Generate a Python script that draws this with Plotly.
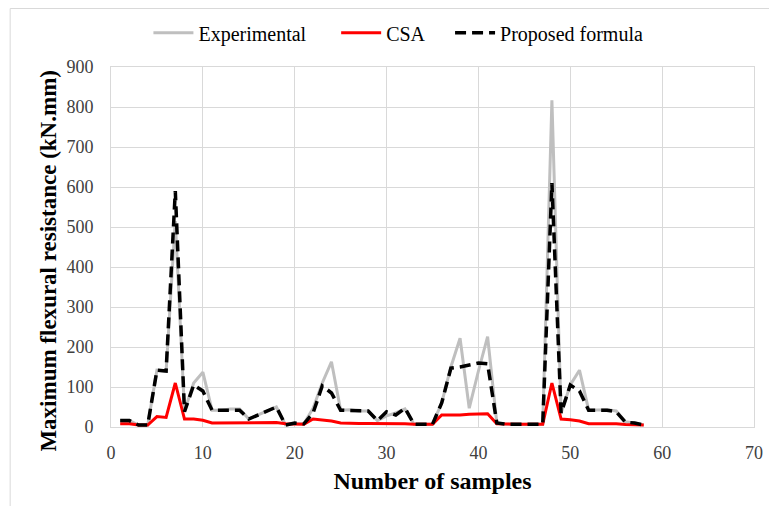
import plotly.graph_objects as go

samples = list(range(1, 59))

experimental = [16, 16, 5, 5, 142, 140, 515, 40, 110, 137,
                42, 42, 45, 45, 20, 30, 38, 50, 5, 8,
                8, 47, 110, 163, 42, 43, 40, 40, 16, 28,
                35, 45, 7, 7, 7, 60, 150, 222, 47, 140,
                226, 10, 7, 7, 7, 7, 7, 817, 35, 105,
                142, 42, 42, 43, 40, 13, 10, 5]

csa = [8, 8, 5, 5, 26, 24, 110, 20, 20, 17,
       10, 10, 10, 11, 11, 11, 11, 11, 8, 7,
       7, 20, 18, 15, 10, 9, 9, 9, 9, 9,
       9, 8, 7, 7, 7, 30, 30, 30, 32, 33,
       33, 8, 7, 7, 7, 7, 7, 110, 20, 18,
       15, 8, 8, 8, 8, 6, 5, 5]

proposed = [16, 16, 5, 5, 142, 140, 590, 38, 105, 90,
            42, 42, 42, 42, 20, 30, 38, 50, 5, 10,
            8, 35, 103, 85, 42, 42, 40, 40, 16, 38,
            30, 47, 7, 7, 7, 60, 147, 150, 155, 160,
            158, 10, 7, 7, 7, 7, 7, 610, 35, 105,
            90, 42, 42, 42, 38, 12, 10, 5]

x_ticks = [0, 10, 20, 30, 40, 50, 60, 70]
y_ticks = [0, 100, 200, 300, 400, 500, 600, 700, 800, 900]

FONT = "Liberation Serif"
GRID = "#d9d9d9"
NB = "\u00a0"

fig = go.Figure()
fig.add_trace(go.Scatter(x=samples, y=experimental, mode="lines", name="Experimental" + NB * 5,
                         line=dict(color="#bfbfbf", width=3)))
fig.add_trace(go.Scatter(x=samples, y=csa, mode="lines", name="CSA" + NB * 4,
                         line=dict(color="#ff0000", width=3)))
fig.add_trace(go.Scatter(x=samples, y=proposed, mode="lines", name="Proposed formula",
                         line=dict(color="#000000", width=3.5, dash="11px,6px")))

fig.update_layout(
    width=769, height=506,
    margin=dict(l=110.5, r=14.5, t=67, b=79),
    paper_bgcolor="white", plot_bgcolor="white",
    font=dict(family=FONT, size=17, color="#000000"),
    legend=dict(orientation="h", x=0.447, xanchor="center", y=1.095, yanchor="middle",
                font=dict(family=FONT, size=20, color="#000"),
                itemwidth=40, tracegroupgap=0, bgcolor="rgba(0,0,0,0)"),
    xaxis=dict(range=[0, 70], tickvals=x_ticks, showgrid=True, gridcolor=GRID, gridwidth=1,
               zeroline=False, showline=True, linecolor=GRID, linewidth=1, mirror=True,
               ticks="", ticklabelstandoff=9, automargin=False,
               tickfont=dict(family=FONT, size=18, color="#404040"),
               title=dict(text="<b>Number of samples</b>", standoff=10,
                          font=dict(family=FONT, size=24, color="#000"))),
    yaxis=dict(range=[0, 900], tickvals=y_ticks, showgrid=True, gridcolor=GRID, gridwidth=1,
               zeroline=False, showline=True, linecolor=GRID, linewidth=1, mirror=True,
               ticks="", ticklabelstandoff=13, automargin=False,
               tickfont=dict(family=FONT, size=18, color="#404040")),
    annotations=[dict(text="<b>Maximum flexural resistance (kN.mm)</b>", xref="paper", yref="paper",
                      x=(47 - 110.5) / 644, y=(427 - 261) / 360, xanchor="center", yanchor="middle",
                      textangle=-90, showarrow=False,
                      font=dict(family=FONT, size=23, color="#000"))],
    shapes=[dict(type="rect", xref="paper", yref="paper",
                 x0=(9.5 - 110.5) / 644, x1=1.3, y0=-0.4, y1=(427 - 8.5) / 360,
                 line=dict(color=GRID, width=1), fillcolor="rgba(0,0,0,0)", layer="below")],
)

fig.write_html("out.html",
               config={"displayModeBar": False},
               post_script="document.body.style.margin='0';document.body.style.overflow='hidden';")
